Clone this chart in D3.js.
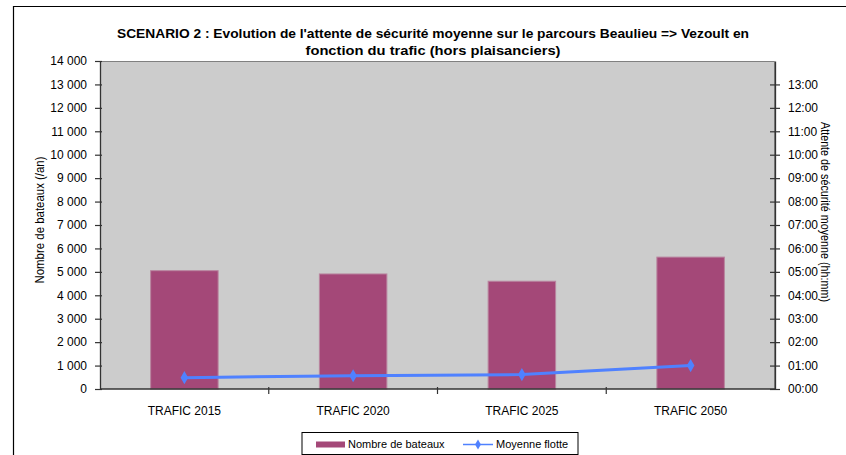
<!DOCTYPE html>
<html><head><meta charset="utf-8">
<script src="https://cdn.jsdelivr.net/npm/d3@7"></script>
<style>
html,body{margin:0;padding:0;background:#fff;}
text{font-family:"Liberation Sans",Arial,sans-serif;fill:#000;}
</style></head>
<body>
<svg id="chart" width="846" height="455"></svg>
<script>
const categories = ["TRAFIC 2015","TRAFIC 2020","TRAFIC 2025","TRAFIC 2050"];
const nombreBateaux = [5050, 4910, 4600, 5630];
const moyenneFlotteMinutes = [29, 34, 37, 60];
const leftTicks = [0,1000,2000,3000,4000,5000,6000,7000,8000,9000,10000,11000,12000,13000,14000];
const rightTicksHours = [0,1,2,3,4,5,6,7,8,9,10,11,12,13];
const titleLines = ["SCENARIO 2 : Evolution de l'attente de sécurité moyenne sur le parcours Beaulieu => Vezoult en","fonction du trafic (hors plaisanciers)"];

const svg = d3.select("#chart");
const L = 100, R = 775, T = 61, B = 389;

// outer frame
svg.append("path").attr("d", `M13.5,460 V6.5 H860`).attr("fill","none").attr("stroke","#000").attr("stroke-width",1.2);

const x = d3.scaleBand().domain(categories).range([L,R]).paddingInner(0.6).paddingOuter(0.3);
const y = d3.scaleLinear().domain([0,14000]).range([B,T]);
const y2 = d3.scaleLinear().domain([0,14*60]).range([B,T]);

// plot background
svg.append("rect").attr("x",L).attr("y",T).attr("width",R-L).attr("height",B-T).attr("fill","#CCCCCC");
svg.append("path").attr("d",`M${L},${T+0.5} H${R-0.5} V${B}`).attr("fill","none").attr("stroke","#808080").attr("stroke-width",1);

// bars
svg.selectAll("rect.bar").data(nombreBateaux).enter().append("rect").attr("class","bar")
  .attr("x",(d,i)=>x(categories[i])).attr("width",x.bandwidth())
  .attr("y",d=>y(d)).attr("height",d=>B-y(d))
  .attr("fill","#A44878").attr("stroke","#B9849F").attr("stroke-width",1);

// left axis
const fmtNum = d => d3.format(",")(d).replace(/,/g," ");
const la = svg.append("g").attr("transform",`translate(${L},0)`)
  .call(d3.axisLeft(y).tickValues(leftTicks).tickFormat(fmtNum).tickSizeInner(5).tickSizeOuter(0).tickPadding(8));
la.selectAll(".tick line").attr("x2",-5).attr("x1",2);
// right axis
const ra = svg.append("g").attr("transform",`translate(${R},0)`)
  .call(d3.axisRight(y2).tickValues(rightTicksHours.map(h=>h*60)).tickFormat(m=>d3.format("02d")(m/60)+":00").tickSizeInner(5).tickSizeOuter(0).tickPadding(8));
ra.selectAll(".tick line").attr("x1",-5).attr("x2",5);
[la,ra].forEach(a=>{
  a.select(".domain").attr("stroke","#333").attr("stroke-width",1.3);
  a.selectAll(".tick line").attr("stroke","#333").attr("stroke-width",1.2);
  a.selectAll(".tick text").attr("font-size",12).attr("font-family","Liberation Sans, Arial, sans-serif").attr("fill","#000");
});
ra.selectAll(".tick text").attr("x",13);

// bottom axis
const step = x.step();
const bx = svg.append("g");
bx.append("line").attr("x1",L).attr("x2",R+1).attr("y1",B).attr("y2",B).attr("stroke","#333").attr("stroke-width",1.5);
const bounds = categories.slice(0,-1).map(c=>x(c)+x.bandwidth()+(step-x.bandwidth())/2);
bx.selectAll("line.t").data(bounds).enter().append("line").attr("class","t")
  .attr("x1",d=>d).attr("x2",d=>d).attr("y1",B-2).attr("y2",B+5).attr("stroke","#333").attr("stroke-width",1.2);
bx.selectAll("text").data(categories).enter().append("text")
  .attr("x",d=>x(d)+x.bandwidth()/2).attr("y",B+26).attr("text-anchor","middle").attr("font-size",12).text(d=>d);

// line series
const lineGen = d3.line().x((d,i)=>x(categories[i])+x.bandwidth()/2).y(d=>y2(d));
svg.append("path").datum(moyenneFlotteMinutes).attr("d",lineGen).attr("fill","none").attr("stroke","#4F81FF").attr("stroke-width",3);
const diamond = d3.symbol().type(d3.symbolDiamond).size(50);
svg.selectAll("path.mk").data(moyenneFlotteMinutes).enter().append("path").attr("class","mk")
  .attr("d",diamond).attr("transform",(d,i)=>`translate(${x(categories[i])+x.bandwidth()/2},${y2(d)})`).attr("fill","#4F81FF");

// title
svg.append("text").attr("x",433).attr("y",38).attr("text-anchor","middle").attr("font-size",13).attr("font-weight","bold")
  .attr("textLength",632).attr("lengthAdjust","spacingAndGlyphs").text(titleLines[0]);
svg.append("text").attr("x",433).attr("y",55).attr("text-anchor","middle").attr("font-size",13).attr("font-weight","bold")
  .attr("textLength",255).attr("lengthAdjust","spacingAndGlyphs").text(titleLines[1]);

// axis titles
svg.append("text").attr("transform","translate(44,220) rotate(-90)").attr("text-anchor","middle").attr("font-size",12)
  .attr("textLength",127).attr("lengthAdjust","spacingAndGlyphs").text("Nombre de bateaux (/an)");
svg.append("text").attr("transform","translate(821,212) rotate(90)").attr("text-anchor","middle").attr("font-size",12)
  .attr("textLength",180).attr("lengthAdjust","spacingAndGlyphs").text("Attente de sécurité moyenne (hh:mm)");

// legend
const lg = svg.append("g");
lg.append("rect").attr("x",302).attr("y",432.5).attr("width",276).attr("height",22).attr("fill","#fff").attr("stroke","#000").attr("stroke-width",1);
lg.append("rect").attr("x",316).attr("y",441.5).attr("width",29).attr("height",6).attr("fill","#A44878");
lg.append("text").attr("x",348).attr("y",448).attr("font-size",11).text("Nombre de bateaux");
lg.append("line").attr("x1",463).attr("x2",493).attr("y1",444.5).attr("y2",444.5).attr("stroke","#4F81FF").attr("stroke-width",1.5);
lg.append("path").attr("d",d3.symbol().type(d3.symbolDiamond).size(30)).attr("transform","translate(478,444.5)").attr("fill","#4F81FF");
lg.append("text").attr("x",496).attr("y",448).attr("font-size",11).text("Moyenne flotte");
</script>
</body></html>
